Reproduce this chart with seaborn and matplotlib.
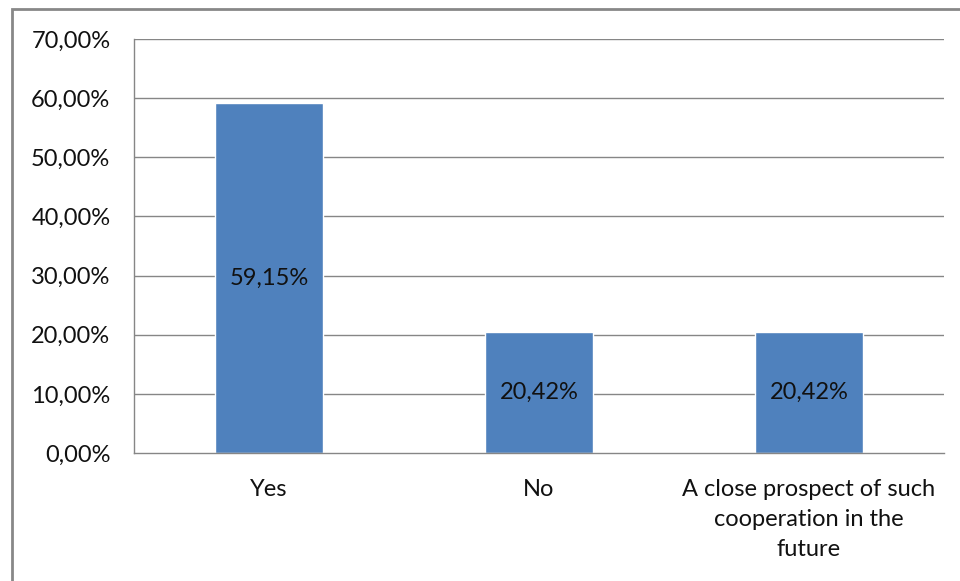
import matplotlib
matplotlib.use("Agg")
import matplotlib.pyplot as plt
import seaborn as sns
import pandas as pd
from matplotlib.patches import Rectangle

categories = ["Yes", "No", "A close prospect of such\ncooperation in the\nfuture"]
values = [59.15, 20.42, 20.42]
value_labels = ["59,15%", "20,42%", "20,42%"]
yticks = [0, 10, 20, 30, 40, 50, 60, 70]
ytick_labels = ["0,00%", "10,00%", "20,00%", "30,00%", "40,00%", "50,00%", "60,00%", "70,00%"]

sns.set_style("white")
plt.rcParams['font.family'] = ['Lato', 'DejaVu Sans']

df = pd.DataFrame({"cat": categories, "val": values})

W, H = 960, 581
FS = 17
TXT = "#111111"
fig = plt.figure(figsize=(9.6, 5.81), dpi=100)
ax = fig.add_axes([134 / W, 1 - 453 / H, (944 - 134) / W, (453 - 39) / H])

sns.barplot(data=df, x="cat", y="val", color="#4F81BD", width=0.4,
            saturation=1, ax=ax, zorder=3)

grid_c = "#868686"
ax.set_ylim(0, 70)
ax.set_xlim(-0.5, 2.5)
ax.set_yticks(yticks)
ax.set_yticklabels(ytick_labels, fontsize=FS, color=TXT)
for y in yticks[1:]:
    ax.axhline(y, color=grid_c, lw=1, zorder=1)

ax.set_xticks(range(len(categories)))
ax.set_xticklabels(categories, fontsize=FS, color=TXT, linespacing=1.52)
ax.set_xticks([-0.5, 0.5, 1.5, 2.5], minor=True)
ax.tick_params(axis="x", which="major", length=0, pad=19)
ax.tick_params(axis="x", which="minor", length=5, color=grid_c, width=1, direction="out")
ax.tick_params(axis="y", which="major", length=6.5, color=grid_c, width=1, direction="out", pad=10.5)
for lbl in ax.get_xticklabels():
    lbl.set_verticalalignment("top")

ax.set_xlabel("")
ax.set_ylabel("")
for s in ["top", "right"]:
    ax.spines[s].set_visible(False)
for s in ["left", "bottom"]:
    ax.spines[s].set_color(grid_c)
    ax.spines[s].set_linewidth(1)
    ax.spines[s].set_zorder(4)

for i, (v, t) in enumerate(zip(values, value_labels)):
    ax.text(i, v / 2, t, ha="center", va="center", fontsize=FS, color=TXT, zorder=5)

fig.patches.append(Rectangle((12 / W, 0 - 20 / H), (W + 20) / W, (H - 9 + 20) / H,
                             transform=fig.transFigure, fill=False,
                             edgecolor="#888888", lw=2, zorder=0))

fig.savefig("out.png", dpi=100)
